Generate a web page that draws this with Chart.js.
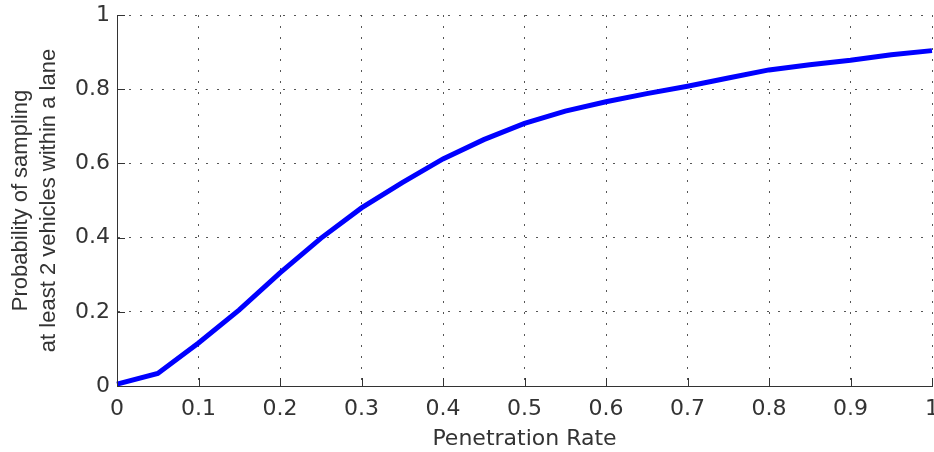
<!DOCTYPE html>
<html>
<head>
<meta charset="utf-8">
<script src="https://cdn.jsdelivr.net/npm/chart.js@4.4.1/dist/chart.umd.min.js"></script>
<style>
  html, body { margin: 0; padding: 0; background: #ffffff; }
  canvas { display: block; }
</style>
</head>
<body>
<canvas id="c" width="934" height="452"></canvas>
<script>
const penetrationRate = [0, 0.05, 0.1, 0.15, 0.2, 0.25, 0.3, 0.35, 0.4, 0.45, 0.5,
                         0.55, 0.6, 0.65, 0.7, 0.75, 0.8, 0.85, 0.9, 0.95, 1.0];
const probability = [0.005, 0.034, 0.116, 0.205, 0.305, 0.398, 0.480, 0.548, 0.612, 0.664, 0.708,
                     0.741, 0.766, 0.788, 0.808, 0.830, 0.852, 0.866, 0.878, 0.893, 0.904];
const xTickLabels = ['0', '0.1', '0.2', '0.3', '0.4', '0.5', '0.6', '0.7', '0.8', '0.9', '1'];
const yTickLabels = ['0', '0.2', '0.4', '0.6', '0.8', '1'];
const xTitle = 'Penetration Rate';
const yTitle = ['Probability of sampling', 'at least 2 vehicles within a lane'];

const points = penetrationRate.map((x, i) => ({ x: x, y: probability[i] }));

const inwardTicks = {
  id: 'inwardTicks',
  afterDraw(chart) {
    const { ctx, chartArea, scales } = chart;
    ctx.save();
    ctx.strokeStyle = '#333333';
    ctx.lineWidth = 1;
    ctx.beginPath();
    scales.x.ticks.forEach(t => {
      const px = Math.round(scales.x.getPixelForValue(t.value)) + 0.5;
      ctx.moveTo(px, chartArea.bottom);
      ctx.lineTo(px, chartArea.bottom - 8);
    });
    scales.y.ticks.forEach(t => {
      const py = Math.round(scales.y.getPixelForValue(t.value)) + 0.5;
      ctx.moveTo(chartArea.left, py);
      ctx.lineTo(chartArea.left + 8, py);
    });
    ctx.stroke();
    ctx.restore();
  }
};

new Chart(document.getElementById('c'), {
  type: 'line',
  data: {
    datasets: [{
      data: points,
      borderColor: '#0000ff',
      borderWidth: 5,
      pointRadius: 0,
      tension: 0,
      fill: false,
      clip: false
    }]
  },
  options: {
    responsive: false,
    animation: false,
    layout: { padding: { left: 0, right: 2, top: 15, bottom: 0 } },
    plugins: { legend: { display: false }, tooltip: { enabled: false } },
    scales: {
      x: {
        type: 'linear',
        min: 0, max: 1,
        afterBuildTicks(scale) {
          scale.ticks = xTickLabels.map(l => ({ value: parseFloat(l) }));
        },
        afterFit(scale) {
          scale.height = 66;
          scale.paddingLeft = 0;
          scale.paddingRight = 0;
        },
        ticks: {
          autoSkip: false,
          maxRotation: 0,
          padding: 10,
          color: '#333333',
          font: { family: 'DejaVu Sans', size: 22 },
          callback: (v, i) => xTickLabels[i]
        },
        grid: { color: '#555555', lineWidth: 1, drawTicks: false },
        border: { display: true, color: '#333333', width: 1, dash: [2, 9] },
        title: {
          display: true,
          text: xTitle,
          color: '#333333',
          font: { family: 'DejaVu Sans', size: 22, lineHeight: 1.2 },
          padding: { top: 0, bottom: 0 }
        }
      },
      y: {
        type: 'linear',
        min: 0, max: 1,
        afterBuildTicks(scale) {
          scale.ticks = yTickLabels.map(l => ({ value: parseFloat(l) }));
        },
        afterFit(scale) {
          scale.width = 117;
          scale.paddingTop = 0;
          scale.paddingBottom = 0;
        },
        ticks: {
          autoSkip: false,
          padding: 7,
          color: '#333333',
          font: { family: 'DejaVu Sans', size: 22 },
          callback: (v, i) => yTickLabels[i]
        },
        grid: { color: '#555555', lineWidth: 1, drawTicks: false },
        border: { display: true, color: '#333333', width: 1, dash: [2, 9] },
        title: {
          display: true,
          text: yTitle,
          color: '#333333',
          font: { family: 'Liberation Sans', size: 22, lineHeight: 1.27 },
          padding: { top: 7, bottom: 0 }
        }
      }
    }
  },
  plugins: [inwardTicks]
});
</script>
</body>
</html>
